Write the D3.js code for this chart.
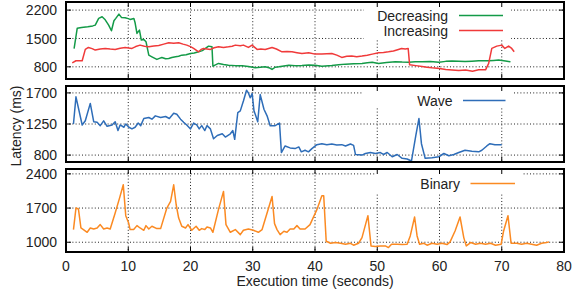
<!DOCTYPE html>
<html>
<head>
<meta charset="utf-8">
<script src="https://cdn.jsdelivr.net/npm/d3@7"></script>
<style>
body { margin: 0; background: #fff; }
svg { display: block; font-family: "Liberation Sans", Arial, sans-serif; }
</style>
</head>
<body>
<div id="chart"></div>
<script>
// tick labels
const xTicks = [0, 10, 20, 30, 40, 50, 60, 70, 80];
const topTicks = [800, 1500, 2200];
const midTicks = [800, 1250, 1700];
const lowTicks = [1000, 1700, 2400];

// series: [seconds, latency ms]
const decreasing = [[1.3,1250],[1.8,1750],[2.5,1770],[3.5,1790],[4.3,1810],[4.7,1830],[5.25,1995],[5.8,2035],[6.3,1960],[6.85,1830],[7.3,1690],[7.7,1936],[8.0,1995],[8.5,2100],[8.9,2020],[9.5,2010],[10.0,1990],[10.3,1970],[10.9,1995],[11.1,1887],[11.4,1625],[11.8,1706],[12.1,1460],[12.5,1476],[12.85,1420],[13.3,1089],[13.8,1048],[14.6,983],[15.0,1010],[15.4,1032],[16.0,1000],[16.5,1007],[17.0,1030],[17.6,1048],[18.1,1060],[18.6,1089],[19.3,1100],[20.0,1130],[20.6,1140],[21.3,1171],[21.9,1200],[22.4,1254],[22.9,1311],[23.45,1294],[23.6,817],[24.5,884],[25.3,860],[26.1,842],[27.2,830],[28.3,826],[29.3,810],[30.4,775],[31.2,790],[32.0,800],[32.6,780],[33.1,735],[33.6,790],[34.2,800],[35.0,820],[35.8,842],[36.8,830],[37.9,834],[39.0,845],[40.0,842],[41.1,817],[42.7,834],[43.8,850],[44.9,867],[46.2,875],[47.55,884],[48.4,900],[49.2,916],[50.2,884],[51.5,905],[52.9,925],[54.0,918],[55.05,916],[56.1,925],[57.2,925],[58.5,930],[59.9,916],[61.0,935],[62.0,942],[63.1,938],[64.1,933],[65.2,940],[66.3,950],[67.9,950],[68.7,958],[69.5,966],[70.6,942],[71.4,925]];

const increasing = [[1.0,899],[1.6,950],[2.6,950],[3.1,1230],[3.6,1279],[4.2,1250],[4.7,1213],[5.5,1240],[6.3,1254],[7.1,1240],[7.9,1230],[8.7,1260],[9.5,1279],[10.6,1254],[11.2,1300],[11.9,1336],[12.6,1310],[13.3,1294],[14.1,1315],[14.9,1328],[15.7,1360],[16.5,1393],[17.3,1385],[18.1,1393],[18.8,1360],[19.4,1336],[20.0,1300],[20.5,1254],[21.3,1171],[21.7,1230],[22.1,1254],[23.2,1230],[23.8,1270],[24.5,1294],[25.3,1280],[26.1,1294],[26.7,1310],[27.2,1336],[28.0,1320],[28.5,1336],[29.3,1279],[29.9,1336],[30.7,1230],[31.3,1240],[32.0,1230],[33.1,1279],[33.8,1240],[34.7,1171],[35.5,1180],[36.3,1171],[37.1,1150],[37.9,1130],[39.0,1147],[40.0,1114],[41.1,1114],[42.7,1130],[43.5,1090],[44.3,1032],[45.1,1060],[45.9,1065],[46.7,1050],[47.55,1065],[48.4,1085],[49.2,1114],[50.2,1147],[51.0,1155],[51.8,1171],[52.6,1190],[53.4,1230],[53.9,1254],[54.5,1240],[54.97,1254],[55.2,850],[56.2,830],[57.2,809],[58.0,790],[58.8,775],[60.0,760],[61.0,735],[62.0,725],[63.1,710],[64.2,720],[65.3,693],[66.3,726],[67.4,726],[67.9,884],[68.4,1254],[69.2,1311],[70.0,1336],[70.5,1254],[71.1,1311],[71.6,1254],[72.0,1171]];

const wave = [[1.2,1250],[1.6,1643],[2.6,1236],[3.1,1296],[3.9,1548],[4.45,1283],[5.0,1274],[5.5,1226],[6.05,1296],[6.6,1217],[7.4,1236],[7.9,1283],[8.35,1155],[8.7,1236],[9.3,1203],[9.6,1250],[10.1,1203],[10.6,1179],[11.1,1203],[11.6,1264],[12.0,1226],[12.5,1330],[13.3,1344],[13.8,1320],[14.35,1368],[15.2,1344],[16.0,1358],[16.6,1330],[17.3,1406],[17.8,1391],[18.4,1320],[18.9,1274],[19.4,1236],[20.0,1179],[20.5,1264],[21.0,1236],[21.4,1179],[21.8,1226],[22.3,1155],[22.65,1226],[23.2,1179],[23.7,1037],[24.3,1084],[25.1,1108],[25.6,1061],[26.4,1108],[26.8,1155],[27.1,1028],[27.6,1416],[28.0,1440],[28.5,1582],[29.0,1738],[29.3,1700],[29.6,1630],[29.9,1690],[30.2,1440],[30.4,1391],[30.8,1283],[31.2,1676],[31.8,1463],[32.3,1368],[32.8,1226],[33.6,1226],[34.3,1264],[34.6,837],[35.2,932],[36.0,904],[36.8,894],[37.4,918],[37.8,847],[38.4,870],[38.95,847],[39.5,894],[40.3,951],[41.1,965],[41.9,950],[42.7,960],[43.5,945],[44.3,951],[44.9,932],[45.7,960],[46.2,941],[46.5,809],[47.55,800],[48.1,823],[48.9,837],[49.7,823],[50.5,837],[51.0,809],[51.6,837],[52.4,776],[53.2,809],[54.0,753],[54.8,743],[55.5,715],[56.2,1084],[56.7,1330],[57.1,965],[57.7,753],[58.8,762],[59.9,776],[60.7,823],[61.5,790],[62.3,809],[63.1,837],[64.1,870],[65.2,856],[66.3,847],[66.8,870],[67.6,932],[68.1,965],[68.9,951],[70.0,951]];

const binary = [[1.2,1259],[1.6,1700],[2.0,1680],[2.4,1292],[2.8,1259],[3.4,1204],[3.9,1292],[4.45,1272],[5.0,1292],[5.5,1361],[6.05,1272],[6.6,1292],[7.1,1272],[7.9,1598],[8.6,1904],[9.2,2177],[9.6,1544],[10.06,1395],[10.3,1259],[10.87,1259],[11.4,1340],[11.9,1292],[12.5,1245],[12.85,1340],[13.3,1272],[13.8,1327],[14.6,1279],[15.2,1279],[16.2,1700],[16.8,1836],[17.3,2177],[17.7,1768],[18.1,1496],[18.6,1327],[19.2,1292],[19.6,1361],[20.2,1245],[20.9,1327],[21.4,1245],[21.8,1279],[22.3,1259],[22.65,1313],[23.2,1292],[23.6,1204],[24.5,1673],[25.3,2041],[25.7,1361],[26.4,1204],[27.2,1259],[28.0,1156],[28.5,1245],[29.3,1272],[30.1,1245],[30.9,1204],[31.5,1259],[32.3,1598],[33.1,1938],[33.5,1381],[33.9,1259],[34.4,1156],[35.0,1224],[35.5,1204],[36.0,1272],[36.6,1272],[37.1,1340],[37.6,1272],[38.4,1272],[39.2,1361],[40.3,1667],[41.1,1952],[41.4,1952],[41.8,1020],[42.5,979],[43.3,993],[44.1,979],[44.9,959],[45.7,979],[46.2,939],[47.0,979],[47.55,1095],[48.5,1544],[49.0,925],[49.7,911],[50.5,925],[51.3,925],[51.8,891],[52.3,959],[53.2,959],[54.0,952],[54.8,959],[55.3,1129],[56.0,1517],[56.4,1129],[56.8,959],[57.5,979],[58.0,939],[58.8,979],[59.6,959],[60.4,979],[61.2,952],[61.7,1007],[62.5,1231],[63.3,1517],[63.9,1095],[64.3,925],[65.0,993],[65.8,959],[66.6,979],[67.4,959],[68.2,979],[69.0,939],[69.9,959],[70.3,1231],[71.0,1544],[71.5,979],[72.4,979],[73.2,959],[74.0,979],[74.8,959],[75.6,939],[76.4,979],[77.2,993],[77.6,1007]];

const svg = d3.select("#chart").append("svg").attr("width", 573).attr("height", 292);
svg.append("rect").attr("width", 573).attr("height", 292).attr("fill", "#fff");

const left = 66, right = 564;
const x = d3.scaleLinear().domain([0, 80]).range([left, right]);

const panels = [
    { top: 2, bottom: 79, domain: [500, 2400], ticks: topTicks,
      series: [{ name: "Decreasing", data: decreasing, color: "#139a47" },
               { name: "Increasing", data: increasing, color: "#f03a3a" }],
      box: [364, 511, 40], keyText: 448, keyLine: [459, 503], keyY: [15.5, 30.5] },
    { top: 86, bottom: 162, domain: [700, 1800], ticks: midTicks,
      series: [{ name: "Wave", data: wave, color: "#2e6db8" }],
      box: [362, 512, 108], keyText: 452.5, keyLine: [463, 505.5], keyY: [100.5] },
    { top: 169, bottom: 252, domain: [800, 2500], ticks: lowTicks,
      series: [{ name: "Binary", data: binary, color: "#fb8a22" }],
      box: [375, 522, 193], keyText: 460, keyLine: [470.5, 515], keyY: [183.5] }
];

panels.forEach((p, i) => {
    const y = d3.scaleLinear().domain(p.domain).range([p.bottom, p.top]);
    const h = p.bottom - p.top;

    // grid
    const grid = svg.append("g");
    grid.selectAll(".hg").data(p.ticks).join("line")
        .attr("x1", left).attr("x2", right)
        .attr("y1", d => y(d)).attr("y2", d => y(d));
    grid.selectAll(".vg").data(xTicks.slice(1, -1)).join("line")
        .attr("x1", d => x(d)).attr("x2", d => x(d))
        .attr("y1", p.top).attr("y2", p.bottom);
    grid.selectAll("line")
        .attr("stroke", "#222").attr("stroke-width", 1)
        .attr("stroke-dasharray", "1,2.2");

    // key box covers the grid
    svg.append("rect")
        .attr("x", p.box[0]).attr("y", p.top)
        .attr("width", p.box[1] - p.box[0]).attr("height", p.box[2] - p.top)
        .attr("fill", "#fff");

    const clipId = "clip" + i;
    svg.append("clipPath").attr("id", clipId).append("rect")
        .attr("x", left).attr("y", p.top).attr("width", right - left).attr("height", h);

    const line = d3.line().x(d => x(d[0])).y(d => y(d[1]));
    p.series.forEach((s, k) => {
        svg.append("path")
            .datum(s.data)
            .attr("clip-path", `url(#${clipId})`)
            .attr("fill", "none")
            .attr("stroke", s.color)
            .attr("stroke-width", 1.5)
            .attr("stroke-linejoin", "round")
            .attr("d", line);

        svg.append("text")
            .attr("x", p.keyText).attr("y", p.keyY[k]).attr("dy", "0.36em")
            .attr("text-anchor", "end").attr("font-size", 14).attr("fill", "#222")
            .text(s.name);
        svg.append("line")
            .attr("x1", p.keyLine[0]).attr("x2", p.keyLine[1])
            .attr("y1", p.keyY[k]).attr("y2", p.keyY[k])
            .attr("stroke", s.color).attr("stroke-width", 1.5);
    });

    // tick marks, inward on all sides
    const tk = svg.append("g").attr("stroke", "#000").attr("stroke-width", 1);
    p.ticks.forEach(t => {
        tk.append("line").attr("x1", left).attr("x2", left + 5).attr("y1", y(t)).attr("y2", y(t));
        tk.append("line").attr("x1", right).attr("x2", right - 5).attr("y1", y(t)).attr("y2", y(t));
    });
    xTicks.slice(1, -1).forEach(t => {
        tk.append("line").attr("x1", x(t)).attr("x2", x(t)).attr("y1", p.bottom).attr("y2", p.bottom - 5);
        tk.append("line").attr("x1", x(t)).attr("x2", x(t)).attr("y1", p.top).attr("y2", p.top + 5);
    });

    // y tick labels
    svg.append("g").selectAll("text").data(p.ticks).join("text")
        .attr("x", 57).attr("y", d => y(d)).attr("dy", "0.36em")
        .attr("text-anchor", "end").attr("font-size", 14).attr("fill", "#222")
        .text(d => d);

    // frame
    svg.append("rect")
        .attr("x", left).attr("y", p.top).attr("width", right - left).attr("height", h)
        .attr("fill", "none").attr("stroke", "#000").attr("stroke-width", 2);
});

// x tick labels under the last panel
svg.append("g").selectAll("text").data(xTicks).join("text")
    .attr("x", d => x(d)).attr("y", 270.5)
    .attr("text-anchor", "middle").attr("font-size", 14).attr("fill", "#222")
    .text(d => d);

svg.append("text")
    .attr("x", (left + right) / 2).attr("y", 286)
    .attr("text-anchor", "middle").attr("font-size", 14).attr("fill", "#222")
    .text("Execution time (seconds)");

svg.append("text")
    .attr("transform", "translate(20.5,126) rotate(-90)")
    .attr("text-anchor", "middle").attr("font-size", 14).attr("fill", "#222")
    .text("Latency (ms)");
</script>
</body>
</html>
